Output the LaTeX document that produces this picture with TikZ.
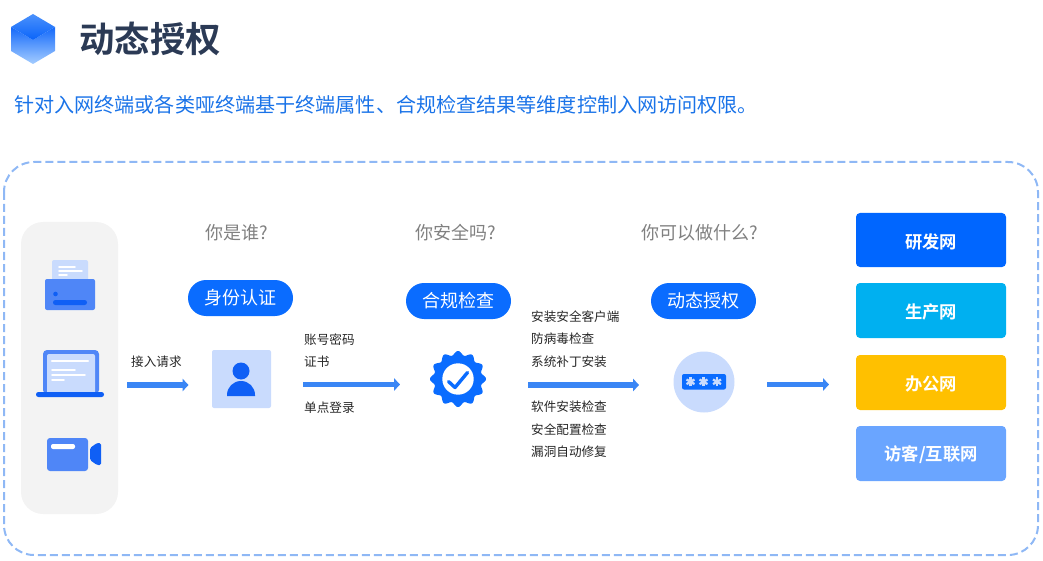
\documentclass[tikz,border=0pt]{standalone}
\usepackage{fontspec}
\setmainfont{Noto Sans CJK SC}[BoldFont={Noto Sans CJK SC Bold}]
\usetikzlibrary{arrows.meta}
\definecolor{framec}{HTML}{8FB8F5}
\definecolor{panelc}{HTML}{F3F3F3}
\definecolor{paleblue}{HTML}{C9DBFD}
\definecolor{midblue}{HTML}{4F86F7}
\definecolor{deepblue}{HTML}{0F5FF5}
\definecolor{pillc}{HTML}{0A6CFF}
\definecolor{arrowc}{HTML}{3A86F5}
\definecolor{titlec}{HTML}{2B3A55}
\definecolor{subc}{HTML}{1A73E8}
\definecolor{askc}{HTML}{808080}
\tikzset{
  x=1pt,y=-1pt,
  fs/.style={font=\fontsize{#1pt}{#1pt}\selectfont},
  askt/.style={fs=18,text=askc,inner sep=0pt},
  small/.style={fs=12.6,text=black!85,anchor=west,inner sep=0pt},
  pill/.style={fill=pillc,rounded corners=18pt,minimum width=105pt,minimum height=36pt,inner sep=0pt,text=white,fs=18},
  netbox/.style={rounded corners=4pt,minimum width=150pt,inner sep=0pt,text=white,font=\bfseries\fontsize{17.3pt}{17.3pt}\selectfont},
  flow/.style={draw=arrowc,line width=5.8pt,-{Triangle[length=6pt,width=12.5pt]}},
  whitebar/.style={draw=white,line cap=round},
}
\begin{document}
\begin{tikzpicture}
\useasboundingbox (0,0) rectangle (1043,561);
% logo
\shade[top color={rgb,255:red,20;green,105;blue,250},bottom color={rgb,255:red,165;green,205;blue,255}]
  (33,40) -- (55,27) -- (55,51) -- (33,64) -- (11,51) -- (11,27) -- cycle;
\shade[top color={rgb,255:red,75;green,145;blue,252},bottom color={rgb,255:red,10;green,100;blue,250}]
  (33,14) -- (55,27) -- (33,40) -- (11,27) -- cycle;
\node[font=\bfseries\fontsize{35.4pt}{35.4pt}\selectfont,text=titlec,inner sep=0pt] (title) at (150,38.5) {动态授权};
\node[fs=20.1,text=subc,anchor=west,inner sep=0pt] (sub) at (14,104.5) {针对入网终端或各类哑终端基于终端属性、合规检查结果等维度控制入网访问权限。};
% frame
\draw[framec,line width=2pt,dash pattern=on 8pt off 4pt,rounded corners=30pt] (4,162) rectangle (1038,555);
% devices
\fill[panelc,rounded corners=22pt] (21,222) rectangle (118,514);
% printer
\fill[paleblue,rounded corners=2pt] (52,260) rectangle (88,282);
\draw[whitebar,line width=1.7pt] (59,267) -- (75,267) (59,271) -- (82,271) (59,275) -- (67,275);
\fill[midblue,rounded corners=2pt] (45,279) rectangle (95,310);
\fill[deepblue] (55.5,294) circle (2.3pt);
\fill[deepblue,rounded corners=2.4pt] (53,300) rectangle (87,305);
% laptop
\fill[midblue,rounded corners=4pt] (43,350) rectangle (99,394);
\fill[paleblue,rounded corners=2pt] (47,354) rectangle (95,394);
\draw[whitebar,line width=2.4pt] (52,361) -- (88,361);
\draw[whitebar,line width=1.7pt] (52,370) -- (75,370) (52,375) -- (85,375) (52,380) -- (64,380);
\fill[deepblue,rounded corners=2.4pt] (36,392) rectangle (104,397);
% camera
\fill[midblue,rounded corners=3pt] (47,438) rectangle (88,471);
\fill[white,rounded corners=2pt] (51,444) rectangle (75,449);
\fill[deepblue,rounded corners=1.5pt] (101,443) -- (101,465) -- (97,465) -- (90,460) -- (90,448) -- (97,443) -- cycle;
% questions
\node[askt] (q1) at (237,233) {你是谁?};
\node[askt] (q2) at (455.5,233) {你安全吗?};
\node[askt] (q3) at (699.5,233) {你可以做什么?};
% pills
\node[pill] (p1) at (240.5,298) {身份认证};
\node[pill] (p2) at (458.5,301) {合规检查};
\node[pill] (p3) at (703.5,301) {动态授权};
% user icon
\node[fill=paleblue,rounded corners=2pt,minimum width=59pt,minimum height=58pt,inner sep=0pt] (user) at (241.5,379) {};
\fill[deepblue] (241,371) circle (8.5pt);
\fill[deepblue] (227,396) -- (227,395) arc[start angle=180,end angle=0,x radius=14pt,y radius=14pt] -- (255,396) -- cycle;
% gear
\node[minimum size=56pt,inner sep=0pt] (gear) at (458,379) {};
\fill[pillc] plot[domain=0:360,samples=181,smooth] ({458+(26+2*cos(12*\x))*cos(\x)},{379+(26+2*cos(12*\x))*sin(\x)}) -- cycle;
\fill[white] (458,379) circle (15.7pt);
\draw[pillc,line width=3.4pt,line cap=round,line join=round] (448.5,381.5) -- (455,387.5) -- (467.5,372.5);
% key
\node[circle,fill=paleblue,minimum size=61pt,inner sep=0pt] (key) at (704,382) {};
\fill[pillc,rounded corners=2pt] (682,374) rectangle (726,389.5);
\foreach \cx in {690.5,703.5,717}{
  \foreach \a in {30,90,150}{
    \draw[paleblue,line width=2.3pt] ({\cx+4.6*cos(\a)},{381.8+4.6*sin(\a)}) -- ({\cx-4.6*cos(\a)},{381.8-4.6*sin(\a)});
  }
}
% labels
\node[small] (l0) at (131,361.5) {接入请求};
\node[small] (l1) at (304,339.5) {账号密码};
\node[small] (l2) at (304,361.5) {证书};
\node[small] (l3) at (304,407.5) {单点登录};
\node[small] (c1) at (531,316.5) {安装安全客户端};
\node[small] (c2) at (531,338.5) {防病毒检查};
\node[small] (c3) at (531,361.5) {系统补丁安装};
\node[small] (c4) at (531,406.5) {软件安装检查};
\node[small] (c5) at (531,429.5) {安全配置检查};
\node[small] (c6) at (531,451.5) {漏洞自动修复};
% network boxes
\node[netbox,fill={rgb,255:red,0;green,102;blue,255},minimum height=54pt] (n1) at (931,240) {\rule{0pt}{18pt}研发网};
\node[netbox,fill={rgb,255:red,0;green,176;blue,240},minimum height=55pt] (n2) at (931,310.5) {\rule{0pt}{18pt}生产网};
\node[netbox,fill={rgb,255:red,255;green,192;blue,0},minimum height=55pt] (n3) at (931,382.5) {\rule{0pt}{18pt}办公网};
\node[netbox,fill={rgb,255:red,106;green,165;blue,255},minimum height=55pt] (n4) at (931,453.5) {\rule{0pt}{18pt}访客/互联网};
% arrows
\coordinate (a1) at (127,385); \coordinate (b1) at (188.5,385);
\coordinate (a2) at (303,384.5); \coordinate (b2) at (400,384.5);
\coordinate (a3) at (528,385); \coordinate (b3) at (639,385);
\coordinate (a4) at (767,384.5); \coordinate (b4) at (829,384.5);
\draw[flow] (a1) -- (b1);
\draw[flow] (a2) -- (b2);
\draw[flow] (a3) -- (b3);
\draw[flow] (a4) -- (b4);
\end{tikzpicture}
\end{document}
